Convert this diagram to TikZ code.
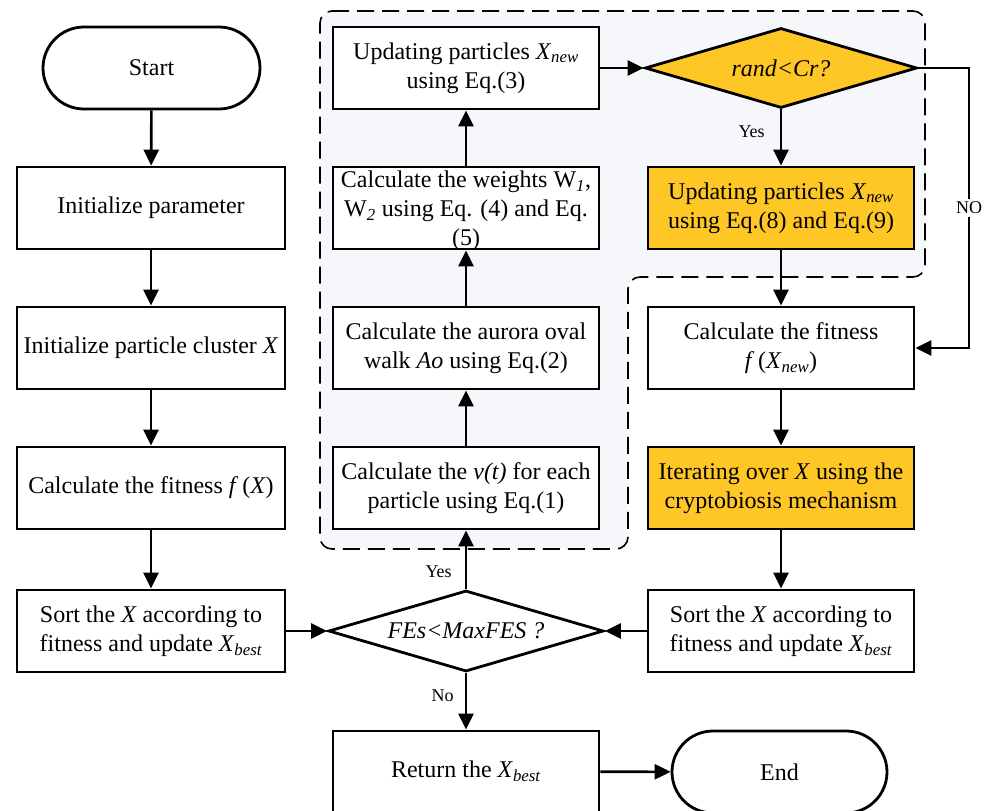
\documentclass[tikz,border=0pt]{standalone}
\usepackage{fontspec}
\setmainfont{Liberation Serif}
\usetikzlibrary{arrows.meta,shapes.geometric}
\definecolor{gold}{RGB}{255,199,38}
\definecolor{regionbg}{RGB}{246,247,250}
\begin{document}
\begin{tikzpicture}[x=1pt,y=-1pt,
  every node/.style={font=\fontsize{24}{29}\selectfont},
  box/.style={draw, line width=2.8pt, minimum width=266pt, minimum height=82pt, align=center, fill=white, inner sep=0pt},
  goldbox/.style={box, fill=gold},
  term/.style={draw, line width=2.8pt, rounded corners=41pt, minimum width=217pt, minimum height=82pt, inner sep=0pt, fill=white},
  decision/.style={draw, line width=2.8pt, shape=diamond, aspect=3.4, inner sep=0pt, minimum height=81pt, font=\fontsize{24}{29}\selectfont\itshape},
  flow/.style={line width=2.6pt, -{Triangle[length=16pt,width=15pt]}},
  lbl/.style={font=\fontsize{18}{22}\selectfont, inner sep=1pt},
  region/.style={draw, line width=1.6pt, dash pattern=on 17pt off 8pt, rounded corners=12pt, fill=regionbg},
  txt/.style={align=center, inner sep=0pt}
]
\useasboundingbox (0,0) rectangle (988,811);

% dashed region
\draw[region] (320,11) -- (925,11) -- (925,277) -- (628,277) -- (628,549) -- (320,549) -- cycle;

% left column
\node[term] (start) at (151.5,68) {Start};
\node[box, minimum width=268pt] (init) at (151,208) {Initialize parameter};
\node[box, minimum width=268pt] (clus) at (151,348) {Initialize particle cluster \textit{X}};
\node[box, minimum width=268pt] (fitx) at (151,488) {Calculate the fitness \textit{f}\,(\textit{X})};
\node[box, minimum width=268pt] (sortl) at (151,631) {Sort the \textit{X} according to\\fitness and update \textit{X}\textsubscript{\textit{best}}};

% middle column
\node[box] (upd3) at (466,68) {Updating particles \textit{X}\textsubscript{\textit{new}}\\using Eq.(3)};
\node[box] (wts) at (466,208) {};
\node[txt] (wtstxt) at (466,211) {Calculate the weights W\textsubscript{\textit{1}},\\W\textsubscript{\textit{2}} using Eq. (4) and Eq.\\(5)};
\node[box] (aur) at (466,348) {Calculate the aurora oval\\walk \textit{Ao} using Eq.(2)};
\node[box] (vt) at (466,488) {Calculate the \textit{v(t)} for each\\particle using Eq.(1)};
\node[decision, fill=white, minimum width=275pt] (fes) at (466,631) {FEs<MaxFES ?};
\node[box, minimum height=81pt] (ret) at (466,771.5) {Return the \textit{X}\textsubscript{\textit{best}}};

% right column
\node[decision, fill=gold, minimum width=272pt, minimum height=80pt] (rc) at (781,68) {rand<Cr?};
\node[goldbox] (upd89) at (781,208) {Updating particles \textit{X}\textsubscript{\textit{new}}\\using Eq.(8) and Eq.(9)};
\node[box] (fitn) at (781,348) {Calculate the fitness\\\textit{f}\,(\textit{X}\textsubscript{\textit{new}})};
\node[goldbox] (iter) at (781,488) {Iterating over \textit{X} using the\\cryptobiosis mechanism};
\node[box] (sortr) at (781,631) {Sort the \textit{X} according to\\fitness and update \textit{X}\textsubscript{\textit{best}}};
\node[term, minimum width=215pt] (end) at (779.5,772) {End};

\coordinate (n1) at (969,68);
\coordinate (n2) at (969,348);

% connectors
\draw[flow] (start) -- (init);
\draw[flow] (init) -- (clus);
\draw[flow] (clus) -- (fitx);
\draw[flow] (fitx) -- (sortl);
\draw[flow] (sortl) -- (fes);
\draw[flow] (sortr) -- (fes);
\draw[flow] (fes) -- node[lbl, left=12pt, pos=0.3] (yes1) {Yes} (vt);
\draw[flow] (fes) -- node[lbl, left=10pt, pos=0.4] (no1) {No} (ret);
\draw[flow] (ret) -- (end);
\draw[flow] (vt) -- (aur);
\draw[flow] (aur) -- (wts);
\draw[flow] (wts) -- (upd3);
\draw[flow] (upd3) -- (rc);
\draw[flow] (rc) -- node[lbl, left=14pt, pos=0.4] (yes2) {Yes} (upd89);
\draw[flow] (upd89) -- (fitn);
\draw[flow] (fitn) -- (iter);
\draw[flow] (iter) -- (sortr);
\draw[flow] (rc.east) -- (n1) -- node[lbl, fill=white, inner sep=3pt] (nolbl) {NO} (n2) -- (fitn.east);
\end{tikzpicture}
\end{document}
